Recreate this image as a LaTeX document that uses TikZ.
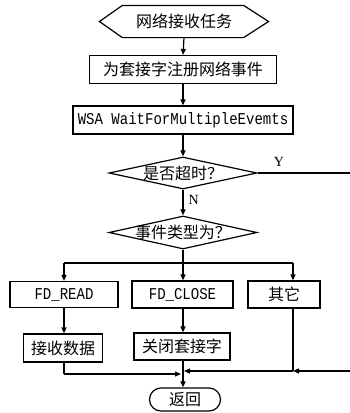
\documentclass[tikz,border=0pt]{standalone}
\usepackage{fontspec}
\setmainfont{Liberation Serif}
\newfontfamily\cjk{Noto Sans CJK SC}
\newfontfamily\monof[FakeStretch=0.85]{Liberation Mono}
\usetikzlibrary{shapes.geometric,arrows.meta,calc}
\begin{document}
\begin{tikzpicture}[x=1pt,y=-1pt,
  line width=1.2pt,
  arr/.style={-{Triangle[length=6pt,width=5pt]}},
  box/.style={draw,rectangle,inner sep=0pt,font=\cjk\fontsize{16pt}{18pt}\selectfont},
  mbox/.style={draw,rectangle,inner sep=0pt,font=\monof\fontsize{16.5pt}{18pt}\selectfont},
  dia/.style={draw,diamond,inner sep=0pt,minimum width=148pt},
  dtext/.style={font=\cjk\fontsize{16pt}{18pt}\selectfont,inner sep=0pt},
  lbl/.style={font=\fontsize{14pt}{16pt}\selectfont,inner sep=0pt}]
\useasboundingbox (0,0) rectangle (350,413);

% start hexagon
\node[dtext,minimum width=168pt,minimum height=31pt] (hex) at (184,21.5) {网络接收任务};
\draw ($(hex.west)$) -- ($(hex.north west)+(23,0)$) -- ($(hex.north east)+(-25,0)$)
  -- (hex.east) -- ($(hex.south east)+(-25,0)$) -- ($(hex.south west)+(23,0)$) -- cycle;

\node[box,minimum width=187pt,minimum height=28pt] (reg) at (183,69.5) {为套接字注册网络事件};
\node[mbox,minimum width=220pt,minimum height=28pt] (wait) at (183,120) {WSA WaitForMultipleEvemts};

\node[dia,minimum height=32pt] (d1) at (183,173) {};
\node[dtext] (d1t) at (d1.center) {是否超时？};
\node[dia,minimum height=33pt] (d2) at (183,232.5) {};
\node[dtext] (d2t) at (d2.center) {事件类型为？};

\node[mbox,minimum width=108pt,minimum height=26pt] (read) at (64,294.5) {FD\_READ};
\node[mbox,minimum width=101pt,minimum height=27pt] (close) at (182.5,294.5) {FD\_CLOSE};
\node[box,minimum width=72pt,minimum height=27pt] (other) at (284,294.5) {其它};

\node[box,minimum width=79pt,minimum height=28pt] (recv) at (63,348) {接收数据};
\node[box,minimum width=96pt,minimum height=27pt] (shut) at (182,346.5) {关闭套接字};

\node[box,rounded corners=11.5pt,minimum width=71pt,minimum height=23pt] (ret) at (185,399.5) {返回};

% coordinates
\coordinate (yend) at (352,173);
\coordinate (br) at (183,263);
\coordinate (brL) at (64,263);
\coordinate (brR) at (293,263);
\coordinate (redge) at (352,371);
\coordinate (jR) at (293,371);
\coordinate (mR) at (183,371);
\coordinate (lcorner) at (64,374);
\coordinate (mL) at (183,374);

% main chain
\draw[arr] (hex.south) -- (reg.north);
\draw[arr] (reg.south) -- (wait.north);
\draw[arr] (wait.south) -- (d1.north);
\draw[arr] (d1.south) -- node[lbl,right=5pt,pos=0.4] (nlab) {N} (d2.north);
\draw (d1.east) -- (yend);
\node[lbl] (ylab) at (279,162) {Y};

% branches
\draw (d2.south) -- (br);
\draw (brL) -- (brR);
\draw[arr] (brL) -- (read.north -| brL);
\draw[arr] (br) -- (close.north -| br);
\draw[arr] (brR) -- (other.north -| brR);

\draw[arr] (read.south -| brL) -- (recv.north -| brL);
\draw[arr] (close.south -| br) -- (shut.north -| br);

% merges
\draw (other.south -| brR) -- (jR);
\draw[arr] (redge) -- (jR);
\draw[arr] (jR) -- ([xshift=1pt]mR);
\draw (recv.south -| lcorner) -- (lcorner);
\draw[arr] (lcorner) -- ([xshift=-2pt]mL);
\draw[arr] (shut.south -| br) -- (ret.north -| br);
\end{tikzpicture}
\end{document}
